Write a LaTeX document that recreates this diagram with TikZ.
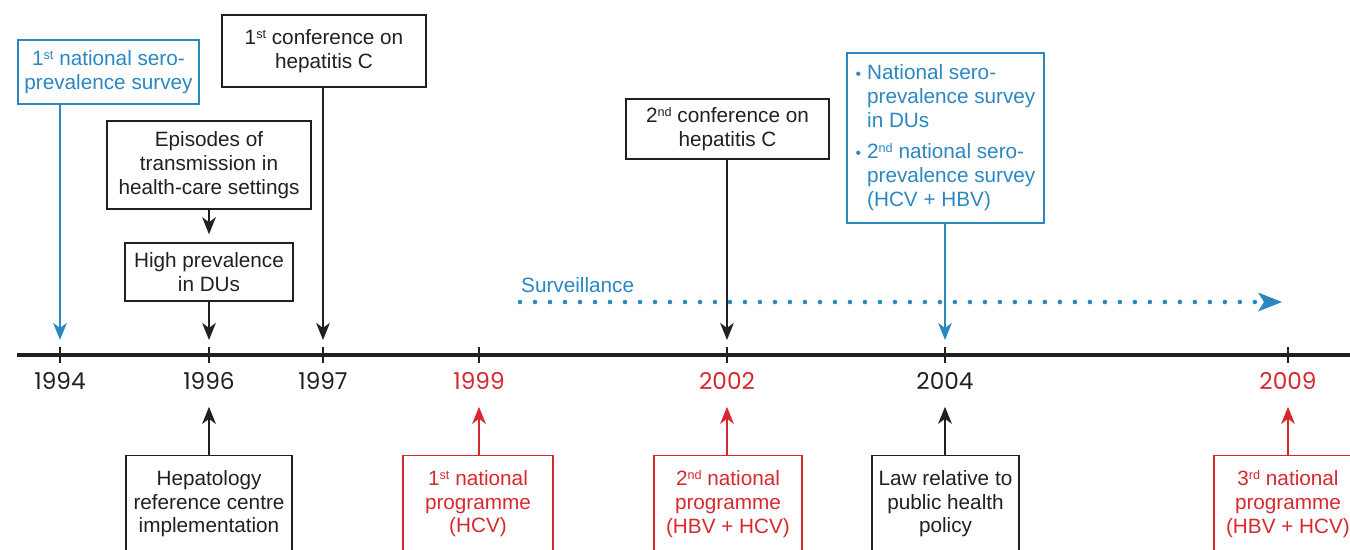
\documentclass[tikz,border=0pt]{standalone}
\usepackage{fontspec}
\setmainfont{Liberation Sans}
\newfontfamily\yearfont{Poppins}
\usetikzlibrary{positioning,arrows.meta}

\definecolor{lineblack}{HTML}{231F20}
\definecolor{survblue}{HTML}{2A87C1}
\definecolor{progred}{HTML}{D7282F}

% small raised ordinal suffix
\newcommand{\ord}[1]{\raisebox{0.55ex}{\fontsize{7.2}{8}\selectfont #1}}

\begin{document}
\begin{tikzpicture}[
        x=0.02cm, y=-0.02cm,
        every node/.style = {font=\fontsize{11.8}{13.6}\selectfont},
        event/.style  = {draw=lineblack, line width=0.8pt, text=lineblack, align=center, inner sep=0pt},
        survey/.style = {event, draw=survblue, text=survblue},
        prog/.style   = {event, draw=progred, text=progred},
        year/.style   = {font=\yearfont\fontsize{13.2}{15}\selectfont, text=lineblack},
        link/.style   = {-{Stealth[length=0.34cm, width=0.27cm, inset=0.1cm]}, line width=1.5pt, lineblack},
        yeartick/.style = {line width=1.5pt, lineblack},
        survline/.style = {survblue, line width=2.6pt, line cap=round, dash pattern=on 0pt off 0.3cm}
    ]
        \useasboundingbox (0,0) rectangle (1350,549);

        % time axis with the years
        \draw[line width=1.8pt, lineblack] (17,355) coordinate (axisL) -- (1350,355) coordinate (axisR);
        \foreach \x/\yr/\col in {60/1994/lineblack, 209/1996/lineblack, 323/1997/lineblack, 479/1999/progred,
                                 727/2002/progred, 945/2004/lineblack, 1288/2009/progred} {
            \coordinate (t\yr) at (\x,355);
            \draw[yeartick] (\x,347) -- (\x,363);
            \node[year, text=\col] (y\yr) at (\x,381) {\yr};
        }

        % events above the axis
        \node[survey, minimum width=3.62cm, minimum height=1.28cm] (survey1) at (108.5,72)
            {1\ord{st} national sero-\\prevalence survey};
        \node[event, minimum width=4.08cm, minimum height=1.44cm] (conf1) at (324,51)
            {1\ord{st} conference on\\hepatitis C};
        \node[event, minimum width=4.08cm, minimum height=1.76cm] (episodes) at (209,165)
            {Episodes of\\transmission in\\health-care settings};
        \node[event, minimum width=3.36cm, minimum height=1.16cm] (highdu) at (209,272)
            {High prevalence\\in DUs};
        \node[event, minimum width=4.06cm, minimum height=1.2cm] (conf2) at (727.5,129)
            {2\ord{nd} conference on\\hepatitis C};
        \node[survey, minimum width=3.94cm, minimum height=3.4cm] (survey2) at (945.5,138)
            {\begin{tabular}{@{}l@{\hspace{0.12cm}}l@{}}
                {\small\textbullet} & National sero-\\
                                    & prevalence survey\\
                                    & in DUs\\[4pt]
                {\small\textbullet} & 2\ord{nd} national sero-\\
                                    & prevalence survey\\
                                    & (HCV + HBV)
             \end{tabular}};

        \draw[link, survblue, shorten >=0.3cm] (survey1.south -| t1994) -- (t1994);
        \draw[link, shorten >=0.16cm] (episodes) -- (highdu);
        \draw[link, shorten >=0.3cm] (highdu) -- (t1996);
        \draw[link, shorten >=0.3cm] (conf1.south -| t1997) -- (t1997);
        \draw[link, shorten >=0.3cm] (conf2.south -| t2002) -- (t2002);
        \draw[link, survblue, shorten >=0.3cm] (survey2.south -| t2004) -- (t2004);

        % surveillance period
        \node[text=survblue, anchor=west] (survlabel) at (515,285) {Surveillance};
        \coordinate (survL) at (520,302);
        \coordinate (survR) at (1282,302);
        \draw[survline, -{Stealth[length=0.48cm, width=0.38cm, inset=0.12cm, line width=0pt]}] (survL) -- (survR);

        % events below the axis
        \node[event, anchor=north, minimum width=3.32cm, minimum height=1.92cm] (refcentre) at (209,455)
            {Hepatology\\reference centre\\implementation};
        \node[prog, anchor=north, minimum width=3cm, minimum height=1.92cm] (prog1) at (478,455)
            {1\ord{st} national\\programme\\(HCV)};
        \node[prog, anchor=north, minimum width=2.96cm, minimum height=1.92cm] (prog2) at (728,455)
            {2\ord{nd} national\\programme\\(HBV + HCV)};
        \node[event, anchor=north, minimum width=2.94cm, minimum height=1.92cm] (law) at (945.5,455)
            {Law relative to\\public health\\policy};
        \node[prog, anchor=north, minimum width=2.96cm, minimum height=1.92cm] (prog3) at (1288,455)
            {3\ord{rd} national\\programme\\(HBV + HCV)};

        \draw[link, shorten >=0.22cm] (refcentre.north -| t1996) -- (y1996.south);
        \draw[link, progred, shorten >=0.22cm] (prog1.north -| t1999) -- (y1999.south);
        \draw[link, progred, shorten >=0.22cm] (prog2.north -| t2002) -- (y2002.south);
        \draw[link, shorten >=0.22cm] (law.north -| t2004) -- (y2004.south);
        \draw[link, progred, shorten >=0.22cm] (prog3.north -| t2009) -- (y2009.south);
\end{tikzpicture}
\end{document}
